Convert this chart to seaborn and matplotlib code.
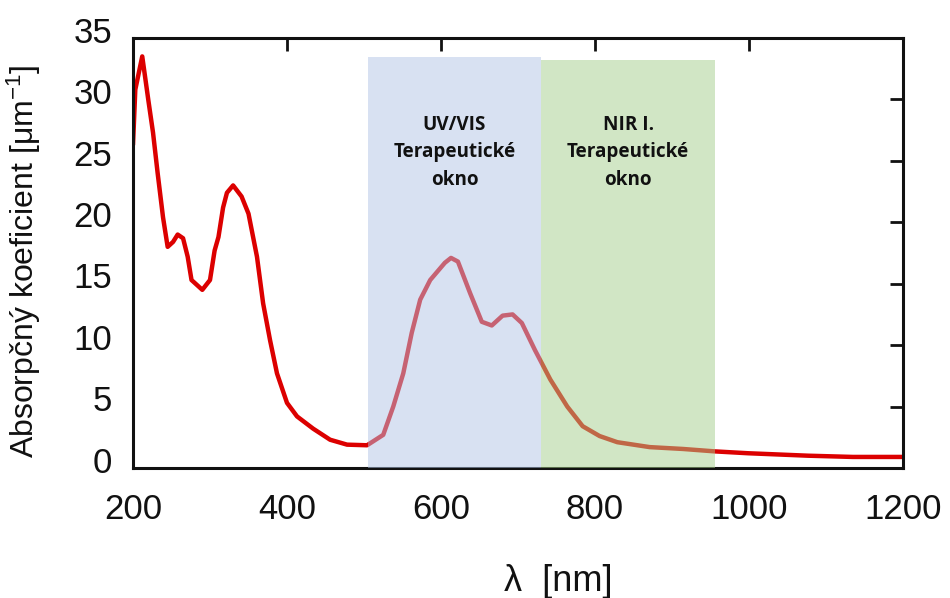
import matplotlib
matplotlib.use("Agg")
import matplotlib.pyplot as plt
import matplotlib.transforms as mtransforms
import seaborn as sns
import pandas as pd

# Absorption spectrum (wavelength in nm, absorption coefficient in 1/um)
wavelength = [200, 203, 212, 220, 226, 232, 239, 245, 252, 258, 265, 271, 276,
              290, 300, 306, 311, 317, 322, 330, 341, 350, 361, 369, 378, 387,
              400, 413, 434, 456, 478, 504, 525, 538, 551, 562, 573, 586, 605,
              613, 622, 638, 653, 666, 680, 693, 705, 722, 742, 764, 784, 806,
              829, 871, 914, 956, 999, 1077, 1135, 1200]
absorption = [26.3, 30.8, 33.5, 29.9, 27.3, 24.0, 20.4, 18.0, 18.4, 19.0, 18.7,
              17.2, 15.3, 14.5, 15.3, 17.7, 18.8, 21.2, 22.4, 23.0, 22.1, 20.7,
              17.2, 13.4, 10.4, 7.7, 5.3, 4.2, 3.2, 2.3, 1.9, 1.85, 2.7, 5.0, 7.7,
              11.0, 13.7, 15.3, 16.7, 17.1, 16.8, 14.2, 11.9, 11.6, 12.4, 12.5,
              11.8, 9.6, 7.2, 5.0, 3.4, 2.6, 2.1, 1.7, 1.55, 1.35, 1.2, 1.0, 0.9,
              0.9]

# Therapeutic windows: start / end wavelength, top of the band, caption
window_starts = [505, 730]
window_ends = [730, 956]
window_tops = [33.45, 33.2]
window_labels = ["UV/VIS\nTerapeutické\nokno", "NIR I.\nTerapeutické\nokno"]
window_colors = ["#b2c5e6", "#a5cf8c"]

x_ticks = [200, 400, 600, 800, 1000, 1200]
y_ticks = [0, 5, 10, 15, 20, 25, 30, 35]

sns.set_theme(style="white")
plt.rcParams["font.family"] = ["Liberation Sans", "DejaVu Sans"]
plt.rcParams["mathtext.fontset"] = "custom"
plt.rcParams["mathtext.rm"] = "Liberation Sans"
plt.rcParams["mathtext.it"] = "Liberation Sans"

fig = plt.figure(figsize=(9.5, 5.98), dpi=100)
ax = fig.add_axes([0.14, 0.2174, 0.8105, 0.7191])

df = pd.DataFrame({"wavelength": wavelength, "absorption": absorption})
sns.lineplot(data=df, x="wavelength", y="absorption", ax=ax,
             color="#dc0000", linewidth=3.2, zorder=2)

for x0, x1, top, col in zip(window_starts, window_ends, window_tops, window_colors):
    ax.fill_between([x0, x1], 0, top, color=col, alpha=0.5, linewidth=0, zorder=3)

for x0, x1, lab in zip(window_starts, window_ends, window_labels):
    ax.text((x0 + x1) / 2, 25.7, lab, ha="center", va="center",
            fontsize=13.6, fontweight="bold", family="Open Sans",
            linespacing=1.5, color="#111111", zorder=4)

ax.set_xlim(200, 1200)
ax.set_ylim(0, 35)
ax.set_xticks(x_ticks)
ax.set_yticks(y_ticks)
ax.tick_params(axis="both", which="major", direction="in", length=9.5, width=2.0,
               labelsize=25, colors="#111111", top=True, right=True)
ax.tick_params(axis="x", pad=18)
ax.tick_params(axis="y", pad=15)
for side in ["left", "right", "top", "bottom"]:
    ax.spines[side].set_visible(True)
    ax.spines[side].set_color("#111111")
    ax.spines[side].set_linewidth(2.2)

# y tick labels sit slightly above their ticks
shift = mtransforms.ScaledTranslation(0, 6 / 72, fig.dpi_scale_trans)
for lbl in ax.get_yticklabels():
    lbl.set_transform(lbl.get_transform() + shift)

ax.set_xlabel("λ  [nm]", fontsize=26, color="#111111")
ax.xaxis.set_label_coords(0.552, -0.224)
ax.set_ylabel("Absorpčný koeficient [μm$^{-1}$]", fontsize=23, color="#111111")
ax.yaxis.set_label_coords(-0.117, 0.48)

fig.savefig("out.png", dpi=100)
